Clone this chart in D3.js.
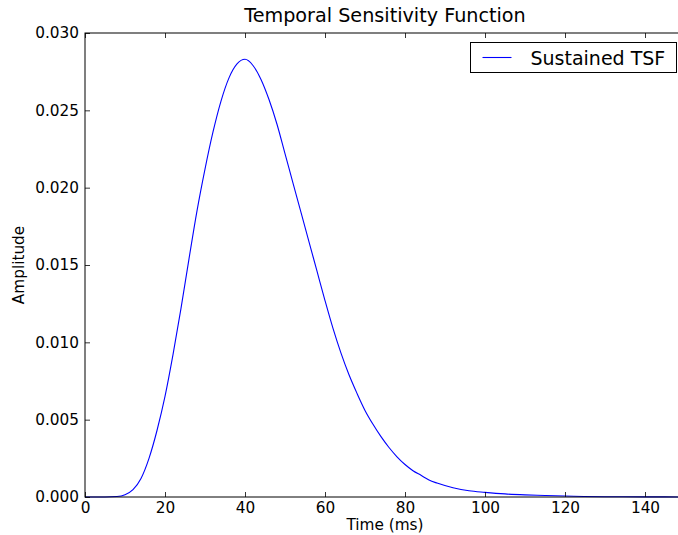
<!DOCTYPE html>
<html>
<head>
<meta charset="utf-8">
<script src="https://cdn.jsdelivr.net/npm/d3@7"></script>
<style>
  body { margin: 0; background: #fff; }
  text { font-family: "DejaVu Sans", sans-serif; fill: #000; }
</style>
</head>
<body>
<script>
// values
const time_ms = [0, 5, 8, 10, 12, 14, 16, 18, 20, 22, 24, 26, 28, 30, 32, 34, 36, 38, 40,
  42, 44, 46, 48, 50, 52, 54, 56, 58, 60, 62, 64, 66, 68, 70, 72, 74, 76, 78, 80, 82, 84,
  86, 88, 92, 96, 100, 105, 110, 115, 120, 130, 140, 150];
const amplitude = [0, 0, 0.00003, 0.00015, 0.00048, 0.0012, 0.0025, 0.0043, 0.0065, 0.0092,
  0.0122, 0.0154, 0.0185, 0.0212, 0.0236, 0.0256, 0.0271, 0.0280, 0.0283,
  0.0279, 0.0270, 0.0257, 0.0241, 0.0222, 0.0203, 0.0184, 0.0165, 0.0146, 0.0127,
  0.0109, 0.0093, 0.0079, 0.0067, 0.0056, 0.0047, 0.0039, 0.0032, 0.0026, 0.0021, 0.0017,
  0.0014, 0.0011, 0.0009, 0.0006, 0.0004, 0.0003, 0.0002, 0.00014, 0.0001, 0.00006,
  0.00002, 0.00001, 0];
const x_ticks = [0, 20, 40, 60, 80, 100, 120, 140];
const y_ticks = [0, 0.005, 0.010, 0.015, 0.020, 0.025, 0.030];
const series_name = "Sustained TSF";

const margin = {top: 33, bottom: 38, left: 85, right: -7};
const width = 678 - margin.left - margin.right;
const height = 535 - margin.top - margin.bottom;

const svg = d3.select('body').append('svg')
  .attr('width', 678)
  .attr('height', 535);

const g = svg.append('g')
  .attr('transform', `translate(${margin.left},${margin.top})`);

const x = d3.scaleLinear().domain([0, 150]).range([0, width]);
const y = d3.scaleLinear().domain([0, 0.03]).range([height, 0]);

// line first so the frame sits on top
const line = d3.line()
  .x((d, i) => x(time_ms[i]))
  .y(d => y(d))
  .curve(d3.curveMonotoneX);

g.append('path')
  .datum(amplitude)
  .attr('fill', 'none')
  .attr('stroke', '#0000ff')
  .attr('stroke-width', 1.1)
  .attr('d', line);

// axes with inward ticks on all sides
function styleAxis(sel) {
  sel.select('.domain').remove();
  sel.selectAll('.tick line').attr('stroke', '#000').attr('stroke-width', 0.8);
  sel.selectAll('text').attr('font-family', '"DejaVu Sans", sans-serif')
    .attr('font-size', 15.3).attr('fill', '#000');
}

g.append('g')
  .attr('transform', `translate(0,${height})`)
  .call(d3.axisBottom(x).tickValues(x_ticks).tickSizeInner(-5).tickSizeOuter(0).tickPadding(5).tickFormat(d3.format('d')))
  .call(styleAxis);

g.append('g')
  .call(d3.axisTop(x).tickValues(x_ticks).tickSizeInner(-5).tickSizeOuter(0).tickFormat(''))
  .call(styleAxis);

g.append('g')
  .call(d3.axisLeft(y).tickValues(y_ticks).tickSizeInner(-5).tickSizeOuter(0).tickPadding(6).tickFormat(d3.format('.3f')))
  .call(styleAxis);

g.append('g')
  .attr('transform', `translate(${width},0)`)
  .call(d3.axisRight(y).tickValues(y_ticks).tickSizeInner(-5).tickSizeOuter(0).tickFormat(''))
  .call(styleAxis);

g.append('rect')
  .attr('width', width)
  .attr('height', height)
  .attr('fill', 'none')
  .attr('stroke', '#000')
  .attr('stroke-width', 1);

// title and labels
svg.append('text')
  .attr('x', margin.left + width / 2)
  .attr('y', 22)
  .attr('text-anchor', 'middle')
  .attr('font-size', 19.2)
  .text('Temporal Sensitivity Function');

svg.append('text')
  .attr('x', margin.left + width / 2)
  .attr('y', 530)
  .attr('text-anchor', 'middle')
  .attr('font-size', 15.3)
  .text('Time (ms)');

svg.append('text')
  .attr('transform', `translate(24,${margin.top + height / 2}) rotate(-90)`)
  .attr('text-anchor', 'middle')
  .attr('font-size', 15.3)
  .text('Amplitude');

// legend
const legend = svg.append('g').attr('transform', 'translate(470.5,42.5)');
legend.append('rect')
  .attr('width', 206)
  .attr('height', 30)
  .attr('fill', '#fff')
  .attr('stroke', '#000')
  .attr('stroke-width', 1);
legend.append('line')
  .attr('x1', 12).attr('x2', 41)
  .attr('y1', 15).attr('y2', 15)
  .attr('stroke', '#0000ff')
  .attr('stroke-width', 1.1);
legend.append('text')
  .attr('x', 60)
  .attr('y', 22)
  .attr('font-size', 19)
  .text(series_name);
</script>
</body>
</html>
